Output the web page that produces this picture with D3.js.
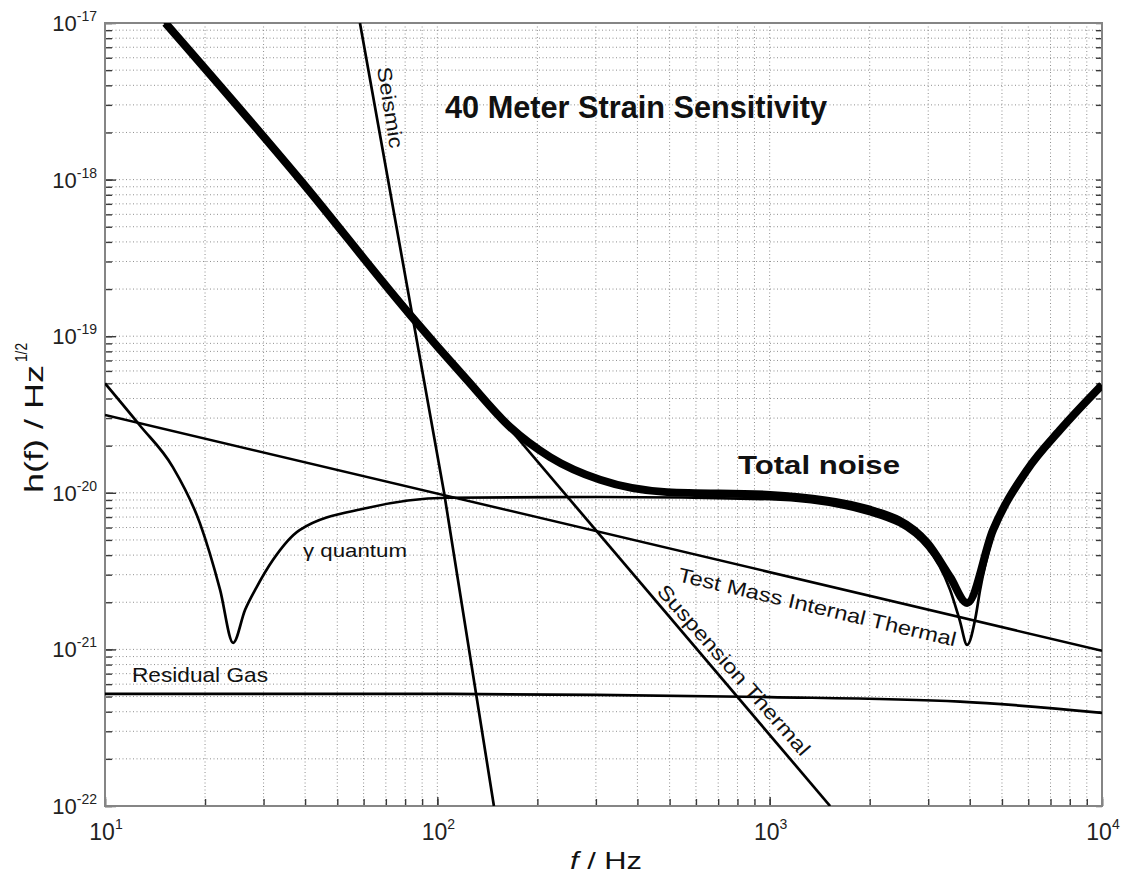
<!DOCTYPE html>
<html>
<head>
<meta charset="utf-8">
<script src="https://cdnjs.cloudflare.com/ajax/libs/d3/7.8.5/d3.min.js"></script>
<style>
    body { margin: 0; background: #fff; }
    svg { display: block; font-family: "Liberation Sans", Arial, Helvetica, sans-serif; }
    .grid line { stroke: #8f8f8f; stroke-width: 1; stroke-dasharray: 1,2.5; }
    .ticks line { stroke: #3a3a3a; stroke-width: 1.4; }
    .ticks .domain { display: none; }
</style>
</head>
<body>
<svg id="chart" width="1121" height="877"></svg>
<script>
    // axis ranges and tick decades
    var xDomain = [10, 10000];
    var yDomain = [1e-22, 1e-17];
    var xDecades = [1, 2, 3, 4];
    var yDecades = [-17, -18, -19, -20, -21, -22];

    // curves (frequency in Hz, strain in 1/sqrt(Hz))
    var totalFreq  = [15.2, 38.6, 82.8, 122.9, 165.5, 218.4, 308.9, 491, 1003, 2005, 2976, 3491, 3927, 4702, 5952, 7478, 10000];
    var totalNoise = [1.0e-17, 1.0e-18, 1.37e-19, 5.25e-20, 2.63e-20, 1.69e-20, 1.21e-20, 1.01e-20, 9.7e-21, 7.8e-21, 4.8e-21, 2.9e-21, 1.98e-21, 5.8e-21, 1.4e-20, 2.52e-20, 4.88e-20];

    var quantumFreq  = [10, 12.7, 16.0, 19.3, 22.2, 24.3, 26.4, 28.6, 32.0, 38.6, 61.4, 107, 309, 1003, 2005, 2976, 3491, 3730, 3927, 4165, 4295, 4702, 5952, 7478, 10000];
    var quantumNoise = [5.0e-20, 2.71e-20, 1.46e-20, 6.4e-21, 2.4e-21, 1.1e-21, 1.79e-21, 2.5e-21, 3.72e-21, 5.8e-21, 8.0e-21, 9.3e-21, 9.4e-21, 9.1e-21, 7.3e-21, 4.45e-21, 2.4e-21, 1.54e-21, 1.07e-21, 1.61e-21, 2.39e-21, 5.4e-21, 1.36e-20, 2.48e-20, 4.81e-20];

    var seismicFreq  = [58.5, 104.8, 148];
    var seismicNoise = [1e-17, 1e-20, 1e-22];

    var suspensionFreq  = [10, 1520];
    var suspensionNoise = [2.83e-17, 1e-22];

    var testMassFreq  = [10, 10000];
    var testMassNoise = [3.14e-20, 9.8e-22];

    var gasFreq  = [10, 100, 300, 1000, 3741, 10000];
    var gasNoise = [5.2e-22, 5.2e-22, 5.12e-22, 4.96e-22, 4.64e-22, 3.93e-22];

    var plotLeft = 105, plotTop = 23, plotRight = 1102, plotBottom = 806;

    var svg = d3.select("#chart");

    var x = d3.scaleLog().domain(xDomain).range([plotLeft, plotRight]);
    var y = d3.scaleLog().domain(yDomain).range([plotBottom, plotTop]);

    var xAll = x.ticks();
    var yAll = y.ticks();
    var xMajor = xDecades.map(function(e){ return Math.pow(10, e); });
    var yMajor = yDecades.map(function(e){ return Math.pow(10, e); });

    /*
        dotted grid on every minor and major tick
    */
    var grid = svg.append("g").attr("class", "grid");
    grid.selectAll(".gx").data(xAll).enter().append("line")
        .attr("x1", function(d){ return x(d); })
        .attr("x2", function(d){ return x(d); })
        .attr("y1", plotTop).attr("y2", plotBottom);
    grid.selectAll(".gy").data(yAll).enter().append("line")
        .attr("y1", function(d){ return y(d); })
        .attr("y2", function(d){ return y(d); })
        .attr("x1", plotLeft).attr("x2", plotRight);

    /*
        inward ticks on left, right and bottom
    */
    svg.append("g").attr("class", "ticks").attr("transform", "translate(0," + plotBottom + ")")
        .call(d3.axisBottom(x).tickValues(xAll).tickSize(-7).tickFormat(""));
    svg.append("g").attr("class", "ticks").attr("transform", "translate(" + plotLeft + ",0)")
        .call(d3.axisLeft(y).tickValues(yAll).tickSize(-7).tickFormat(""));
    svg.append("g").attr("class", "ticks").attr("transform", "translate(" + plotRight + ",0)")
        .call(d3.axisRight(y).tickValues(yAll).tickSize(-6).tickFormat(""));
    svg.append("g").attr("class", "ticks").attr("transform", "translate(" + plotLeft + ",0)")
        .call(d3.axisLeft(y).tickValues(yMajor).tickSize(-11).tickFormat(""));
    svg.append("g").attr("class", "ticks").attr("transform", "translate(0," + plotBottom + ")")
        .call(d3.axisBottom(x).tickValues(xMajor).tickSize(-9).tickFormat(""));

    // frame
    svg.append("rect")
        .attr("x", plotLeft).attr("y", plotTop)
        .attr("width", plotRight - plotLeft).attr("height", plotBottom - plotTop)
        .attr("fill", "none").attr("stroke", "#858585").attr("stroke-width", 2);

    /*
        tick labels with superscript exponents
    */
    var xLabels = svg.append("g").selectAll("text").data(xDecades).enter().append("text")
        .attr("x", function(d){ return x(Math.pow(10, d)) + 1; })
        .attr("y", 840)
        .attr("text-anchor", "middle")
        .attr("font-size", 23)
        .attr("fill", "#222");
    xLabels.append("tspan").text("10");
    xLabels.append("tspan").attr("font-size", 14).attr("dy", -11).text(function(d){ return d; });

    var yLabels = svg.append("g").selectAll("text").data(yDecades).enter().append("text")
        .attr("x", 97)
        .attr("y", function(d){ return y(Math.pow(10, d)) + 8; })
        .attr("text-anchor", "end")
        .attr("font-size", 22)
        .attr("fill", "#222");
    yLabels.append("tspan").text("10");
    yLabels.append("tspan").attr("font-size", 14).attr("dy", -10).text(function(d){ return d; });

    /*
        noise curves
    */
    svg.append("clipPath").attr("id", "plotClip")
        .append("rect")
        .attr("x", plotLeft).attr("y", plotTop)
        .attr("width", plotRight - plotLeft).attr("height", plotBottom - plotTop);

    var plot = svg.append("g").attr("clip-path", "url(#plotClip)");

    function drawCurve(freq, values, width, curve){
        var pts = freq.map(function(f, i){ return [f, values[i]]; });
        var line = d3.line()
            .x(function(d){ return x(d[0]); })
            .y(function(d){ return y(d[1]); })
            .curve(curve || d3.curveLinear);
        plot.append("path")
            .datum(pts)
            .attr("d", line)
            .attr("fill", "none")
            .attr("stroke", "#000")
            .attr("stroke-width", width)
            .attr("stroke-linejoin", "round");
    }

    drawCurve(gasFreq, gasNoise, 2.7, d3.curveMonotoneX);
    drawCurve(testMassFreq, testMassNoise, 2.5);
    drawCurve(suspensionFreq, suspensionNoise, 2.7);
    drawCurve(seismicFreq, seismicNoise, 2.7);
    drawCurve(quantumFreq, quantumNoise, 2.7, d3.curveMonotoneX);
    drawCurve(totalFreq, totalNoise, 8, d3.curveMonotoneX);

    /*
        annotations
    */
    function label(txt, px, py, size, len, rot, bold){
        var t = svg.append("text")
            .attr("transform", "translate(" + px + "," + py + ")" + (rot ? " rotate(" + rot + ")" : ""))
            .attr("font-size", size)
            .attr("fill", "#111")
            .text(txt);
        if(bold){ t.attr("font-weight", "bold"); }
        if(len){ t.attr("textLength", len).attr("lengthAdjust", "spacingAndGlyphs"); }
        return t;
    }

    label("40 Meter Strain Sensitivity", 445, 118, 31, 382, 0, true);
    label("Total noise", 738, 474, 26, 162, 0, true);
    label("\u03b3 quantum", 303, 557, 19, 104, 0, false);
    label("Residual Gas", 132, 682, 21, 136, 0, false);
    label("Seismic", 377, 68, 20, 82, 81, false);
    label("Test Mass Internal Thermal", 677, 581, 20, 285, 13.3, false);
    label("Suspension Thermal", 656, 592, 20, 220, 48.7, false);

    // axis titles
    var xt = svg.append("text")
        .attr("x", 570).attr("y", 869)
        .attr("font-size", 24)
        .attr("fill", "#111")
        .attr("textLength", 72).attr("lengthAdjust", "spacingAndGlyphs");
    xt.append("tspan").attr("font-style", "italic").text("f");
    xt.append("tspan").text(" / Hz");

    label("h(f) / Hz", 43, 493, 26, 128, -90, false);
    label("1/2", 27, 362, 16, 19, -90, false);
</script>
</body>
</html>
